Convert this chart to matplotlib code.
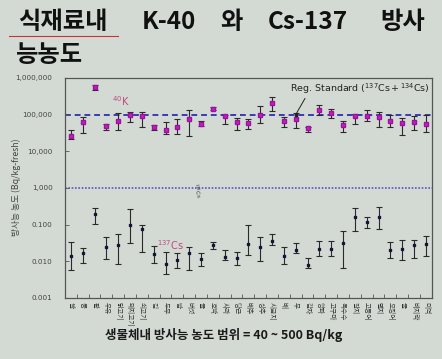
import matplotlib.pyplot as plt
import numpy as np
from matplotlib.ticker import FixedLocator

# 식재료 이름 (31개)
foods = ['쌀', '콩', '팥', '우유', '닭고기', '돼지고기', '쇠고기', '김', '두부', '밤',
         '버섯', '귤', '호박', '사과', '당근', '배추', '상추', '시금치', '배', '무',
         '감자', '양파', '고구마', '옥수수', '갈치', '고등어', '멸치', '오징어', '굴', '바지락', '미역']

# K-40 (Bq/kg-fresh): 평균, 하한, 상한
k40 = [26, 63, 575, 48, 66, 96, 90, 45, 39, 46,
       76, 56, 142, 89, 64, 60, 98, 206, 66, 74,
       42, 136, 109, 53, 92, 94, 88, 67, 58, 62, 56]
k40_lo = [21, 32, 463, 39, 37, 63, 46, 37, 30, 30,
          26, 48, 131, 56, 39, 40, 60, 126, 47, 44,
          33, 100, 79, 34, 54, 66, 47, 47, 28, 38, 33]
k40_hi = [37, 86, 660, 56, 111, 115, 115, 52, 63, 76,
          133, 67, 158, 100, 82, 74, 175, 310, 87, 112,
          47, 186, 142, 68, 107, 135, 121, 98, 79, 94, 100]

# Cs-137 (Bq/kg-fresh)
cs137 = [0.0142, 0.0165, 0.195, 0.024, 0.028, 0.095, 0.075, 0.0159, 0.0084, 0.011,
         0.0165, 0.0116, 0.027, 0.0134, 0.012, 0.029, 0.024, 0.036, 0.014, 0.0204,
         0.0079, 0.0218, 0.0214, 0.031, 0.162, 0.117, 0.162, 0.0204, 0.0218, 0.027, 0.029]
cs137_lo = [0.0058, 0.0088, 0.105, 0.0116, 0.0085, 0.031, 0.0176, 0.0092, 0.0045, 0.0064,
            0.0058, 0.0074, 0.021, 0.011, 0.0079, 0.015, 0.0104, 0.028, 0.0084, 0.0165,
            0.0064, 0.014, 0.014, 0.0064, 0.065, 0.08, 0.076, 0.0126, 0.011, 0.0126, 0.014]
cs137_hi = [0.033, 0.0236, 0.28, 0.047, 0.056, 0.26, 0.095, 0.026, 0.0176, 0.0172,
            0.025, 0.0165, 0.033, 0.0204, 0.018, 0.1, 0.047, 0.056, 0.024, 0.031,
            0.0126, 0.035, 0.036, 0.065, 0.28, 0.166, 0.31, 0.033, 0.038, 0.038, 0.049]

reg_standard = 100
dotted_level = 1
ytick_vals = [0.001, 0.01, 0.1, 1, 10, 100, 1000]
ytick_text = ['0.001', '0.010', '0.100', '1,000', '10,000', '100,000', '1,000,000']

bg = '#d3dad4'
plt.rcParams['font.family'] = ['Noto Sans CJK KR', 'DejaVu Sans']

fig = plt.figure(figsize=(4.42, 3.59), dpi=100, facecolor=bg)
ax = fig.add_axes([0.147, 0.170, 0.830, 0.613], facecolor=bg)

x = np.arange(len(foods))
k = np.array(k40)
c = np.array(cs137)

ax.axhline(reg_standard, color='#3b3bb5', lw=1.4, ls=(0, (3, 2)), zorder=1)
ax.axhline(dotted_level, color='#5555cc', lw=1.2, ls=(0, (1, 1)), zorder=1)

ax.errorbar(x, k, yerr=[k - np.array(k40_lo), np.array(k40_hi) - k], fmt='s',
            ms=3, mfc='#c020c0', mec='#a010a0', ecolor='#2a2a2a', elinewidth=0.8,
            capsize=2, capthick=0.8, zorder=3)
ax.errorbar(x, c, yerr=[c - np.array(cs137_lo), np.array(cs137_hi) - c], fmt='s',
            ms=2, mfc='#151535', mec='#151535', ecolor='#2a2a2a', elinewidth=0.8,
            capsize=2, capthick=0.8, zorder=3)

ax.set_yscale('log')
ax.set_ylim(0.001, 1000)
ax.set_xlim(-0.5, len(foods) - 0.5)
ax.yaxis.set_major_locator(FixedLocator(ytick_vals))
ax.set_yticklabels(ytick_text, fontsize=5.2, color='#444444', family='DejaVu Sans')
ax.yaxis.set_minor_locator(FixedLocator([]))
ax.tick_params(axis='y', direction='in', length=3, width=0.6, color='#555555', pad=9)

ax.set_xticks(x)
ax.set_xticklabels(foods, rotation=-90, fontsize=4.8, color='#333333', va='top', ha='center')
ax.xaxis.set_minor_locator(FixedLocator(np.arange(len(foods) + 1) - 0.5))
ax.tick_params(axis='x', which='major', length=0, pad=3)
ax.tick_params(axis='x', which='minor', direction='in', length=3, width=0.6, color='#555555')

for s in ax.spines.values():
    s.set_color('#555555')
    s.set_linewidth(0.9)

fig.text(16 / 442, 1 - 187 / 359, '방사능 농도 (Bq/kg-fresh)', fontsize=6.3,
         color='#444444', rotation=90, ha='center', va='center')

ax.text(4.2, 230, '$^{40}$K', color='#c04a80', fontsize=7, ha='center', va='center',
        family='DejaVu Sans')
ax.text(8.4, 0.027, '$^{137}$Cs', color='#c04a80', fontsize=7, ha='center', va='center',
        family='DejaVu Sans')
ax.text(10.6, 0.85, '$^{134}$Cs', color='#333333', fontsize=4, rotation=-75,
        ha='center', va='center', family='DejaVu Sans')
ax.annotate('Reg. Standard ($^{137}$Cs$\\,$+$\\,^{134}$Cs)', xy=(19.0, reg_standard),
            xytext=(18.5, 520), fontsize=6.8, color='#222222', family='DejaVu Sans',
            ha='left', va='center',
            arrowprops=dict(arrowstyle='-', color='#222222', lw=0.7,
                            shrinkA=0, shrinkB=0, relpos=(0.12, 0.0)))
ax.plot([19.0], [reg_standard], 's', ms=2, color='#222222', zorder=4)

# 제목 (단어별 중심 위치)
title_words = [('식재료내', 63, 22), ('K-40', 169, 22), ('와', 231, 22),
               ('Cs-137', 308, 22), ('방사', 403, 22), ('능농도', 50, 55)]
for word, px, py in title_words:
    fig.text(px / 442, 1 - py / 359, word, fontsize=17.5, fontweight='bold',
             color='#111111', ha='center', va='center')
fig.add_artist(plt.Line2D([9 / 442, 118 / 442], [1 - 36 / 359, 1 - 36 / 359],
                          color='#cc3333', lw=0.8))

fig.text(0.505, 1 - 335 / 359, '생물체내 방사능 농도 범위 = 40 ~ 500 Bq/kg',
         fontsize=9, fontweight='bold', color='#1a1a1a', ha='center', va='center')

fig.savefig('out.png', dpi=100, facecolor=bg)
